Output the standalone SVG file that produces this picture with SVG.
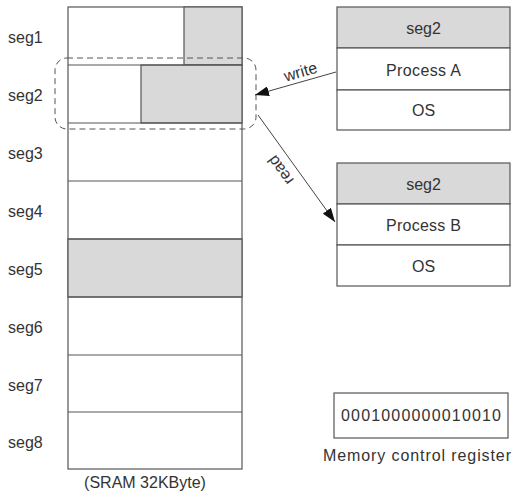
<svg xmlns="http://www.w3.org/2000/svg" width="511" height="495" viewBox="0 0 511 495">
<style>
  .box{fill:#fff;stroke:#555;stroke-width:1.2}
  .grey{fill:#d9d9d9;stroke:#555;stroke-width:1.2}
  .ln{stroke:#555;stroke-width:1.2;fill:none}
  text{font-family:"Liberation Sans",Arial,sans-serif;font-size:16px;fill:#333}
  .c{text-anchor:middle}
  .arrow{stroke:#444;stroke-width:1;fill:none}
</style>
<defs>
  <marker id="ah" viewBox="0 0 14 10" refX="14" refY="5" markerWidth="14" markerHeight="10" markerUnits="userSpaceOnUse" orient="auto">
    <path d="M0,0 L14,5 L0,10 z" fill="#111"/>
  </marker>
</defs>

<g id="sram">
  <rect class="box" x="68" y="7" width="174" height="462"/>
  <rect class="grey" x="184" y="7" width="58" height="58"/>
  <rect class="grey" x="141" y="65" width="101" height="58"/>
  <rect class="grey" x="68" y="239" width="174" height="58"/>
  <line class="ln" x1="68" y1="65" x2="242" y2="65"/>
  <line class="ln" x1="68" y1="123" x2="242" y2="123"/>
  <line class="ln" x1="68" y1="181" x2="242" y2="181"/>
  <line class="ln" x1="68" y1="239" x2="242" y2="239"/>
  <line class="ln" x1="68" y1="297" x2="242" y2="297"/>
  <line class="ln" x1="68" y1="355" x2="242" y2="355"/>
  <line class="ln" x1="68" y1="412" x2="242" y2="412"/>
  <text class="c" x="145" y="488">(SRAM 32KByte)</text>
</g>

<g id="seg-labels">
  <text x="8" y="43">seg1</text>
  <text x="8" y="101">seg2</text>
  <text x="8" y="159">seg3</text>
  <text x="8" y="217">seg4</text>
  <text x="8" y="275">seg5</text>
  <text x="8" y="333">seg6</text>
  <text x="8" y="391">seg7</text>
  <text x="8" y="448">seg8</text>
</g>

<g id="seg2-highlight">
  <rect x="55" y="58" width="201" height="71" rx="12" ry="12" fill="none" stroke="#555" stroke-width="1" stroke-dasharray="6,4"/>
</g>

<g id="processA">
  <rect class="grey" x="337" y="7" width="173" height="41"/>
  <rect class="box" x="337" y="48" width="173" height="42"/>
  <rect class="box" x="337" y="90" width="173" height="40"/>
  <text class="c" x="423.5" y="34">seg2</text>
  <text class="c" x="423.5" y="76" textLength="75" lengthAdjust="spacing">Process A</text>
  <text class="c" x="423.5" y="116">OS</text>
</g>

<g id="processB">
  <rect class="grey" x="337" y="163" width="173" height="41"/>
  <rect class="box" x="337" y="204" width="173" height="41"/>
  <rect class="box" x="337" y="245" width="173" height="41"/>
  <text class="c" x="423.5" y="190">seg2</text>
  <text class="c" x="423.5" y="231" textLength="75" lengthAdjust="spacing">Process B</text>
  <text class="c" x="423.5" y="272">OS</text>
</g>

<g id="register">
  <rect class="box" x="334" y="393" width="174" height="45"/>
  <text class="c" x="421" y="421" textLength="160" lengthAdjust="spacing">0001000000010010</text>
  <text x="323" y="461" textLength="188" lengthAdjust="spacing">Memory control register</text>
</g>

<g id="connectors">
  <line class="arrow" x1="336" y1="72" x2="255" y2="95" marker-end="url(#ah)"/>
  <text class="c" x="302" y="77" transform="rotate(-16 302 77)">write</text>
  <line class="arrow" x1="258" y1="115" x2="335" y2="222" marker-end="url(#ah)"/>
  <text class="c" x="285" y="167" transform="rotate(234 285 167)">read</text>
</g>
</svg>
